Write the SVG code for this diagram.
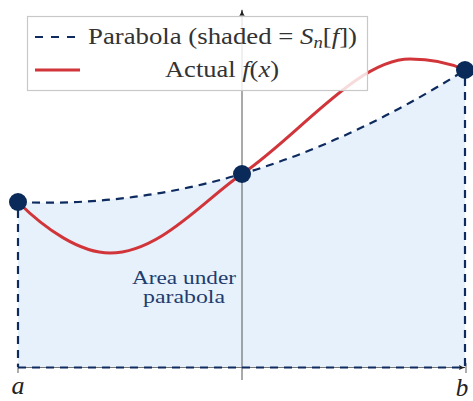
<svg xmlns="http://www.w3.org/2000/svg" width="473" height="401" viewBox="0 0 473 401">
<style>
.nav{stroke:#0d2b5e;stroke-width:2.2;fill:none;stroke-dasharray:8 6}
.axis{stroke:#777;stroke-width:1.2;fill:none}
.dot{fill:#0a2a5a}
.serif{font-family:"Liberation Serif","DejaVu Serif",serif}
.leg{font-size:23px;fill:#333}
.lab{font-size:19px;fill:#1f3d6e;text-anchor:middle}
.it{font-style:italic}
</style>
<defs>
<marker id="arr" viewBox="0 0 10 10" refX="9" refY="5" markerWidth="7" markerHeight="7" orient="auto" markerUnits="userSpaceOnUse">
<path d="M0,1 Q5,4 10,5 Q5,6 0,9 Q3,5 0,1Z" fill="#222"/>
</marker>
</defs>
<g id="shade">
<path d="M18,367 L18,202 Q241.5,212 465,70 L465,367 Z" fill="#e7f1fb"/>
</g>
<g id="axes">
<line class="axis" x1="18" y1="367.5" x2="465" y2="367.5" marker-end="url(#arr)"/>
<line x1="242" y1="380" x2="242" y2="10" stroke="#555" stroke-width="1" marker-end="url(#arr)"/>
<line class="axis" x1="18" y1="363" x2="18" y2="373"/>
<line class="axis" x1="466" y1="363" x2="466" y2="373"/>
</g>
<g id="connectors">
<path class="nav" d="M18,202 Q241.5,212 465,70"/>
<line class="nav" x1="18" y1="210" x2="18" y2="367"/>
<line class="nav" x1="465" y1="78" x2="465" y2="367"/>
<line class="nav" x1="18" y1="367.5" x2="462" y2="367.5"/>
<path d="M18,202 C45,229 80,253 110,253 C160,253 205,199 242,174 C298,136 358,59 410,59 C435,59 452,64 465,70" fill="none" stroke="#d1353a" stroke-width="3"/>
</g>
<g id="node-a"><circle class="dot" cx="18" cy="202" r="9"/></g>
<g id="node-mid"><circle class="dot" cx="242" cy="174" r="9"/></g>
<g id="node-b"><circle class="dot" cx="465" cy="70" r="9"/></g>
<g id="area-label" class="serif lab">
<text x="184" y="284" textLength="104" lengthAdjust="spacingAndGlyphs">Area under</text>
<text x="184" y="303" textLength="82" lengthAdjust="spacingAndGlyphs">parabola</text>
</g>
<g id="ticks" class="serif">
<text x="18" y="394" font-size="26" class="it" text-anchor="middle" fill="#222">a</text>
<text x="462" y="396" font-size="25" class="it" text-anchor="middle" fill="#222">b</text>
</g>
<g id="legend">
<rect x="27.5" y="16.5" width="340" height="74" fill="#fff" fill-opacity="0.82" stroke="#c8c8c8" stroke-width="1.2"/>
<line x1="35" y1="37" x2="75" y2="37" stroke="#0d2b5e" stroke-width="2.2" stroke-dasharray="8 8"/>
<line x1="35" y1="70" x2="80" y2="70" stroke="#d1353a" stroke-width="3"/>
<text class="serif leg" x="88" y="44" textLength="269" lengthAdjust="spacingAndGlyphs">Parabola (shaded = <tspan class="it">S</tspan><tspan class="it" font-size="16" dy="4">n</tspan><tspan dy="-4">[</tspan><tspan class="it">f</tspan>])</text>
<text class="serif leg" x="165" y="77" textLength="114" lengthAdjust="spacingAndGlyphs">Actual <tspan class="it">f</tspan>(<tspan class="it">x</tspan>)</text>
</g>
</svg>
